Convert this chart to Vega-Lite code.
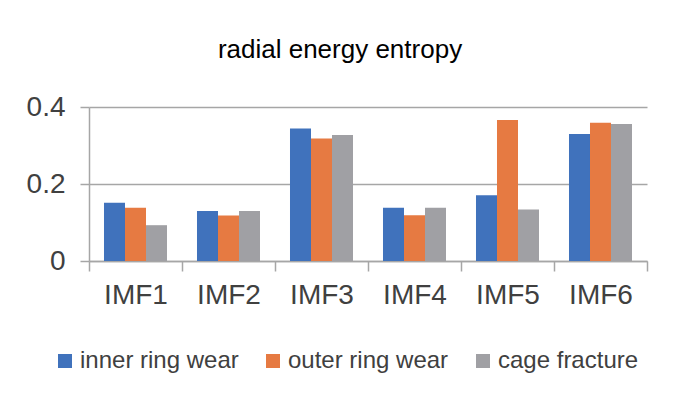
{
  "$schema": "https://vega.github.io/schema/vega-lite/v6.json",
  "autosize": "none",
  "width": 558,
  "height": 154,
  "padding": {"left": 89, "top": 107, "right": 28, "bottom": 136},
  "background": "white",
  "title": {
    "text": "radial energy entropy",
    "font": "Liberation Sans",
    "fontSize": 26,
    "fontWeight": "normal",
    "color": "#000000",
    "anchor": "middle",
    "baseline": "alphabetic",
    "offset": 9,
    "dx": -28
  },
  "data": {
    "values": [
      {"imf": "IMF1", "series": "inner ring wear", "value": 0.151},
      {"imf": "IMF1", "series": "outer ring wear", "value": 0.138},
      {"imf": "IMF1", "series": "cage fracture", "value": 0.093},
      {"imf": "IMF2", "series": "inner ring wear", "value": 0.130},
      {"imf": "IMF2", "series": "outer ring wear", "value": 0.118},
      {"imf": "IMF2", "series": "cage fracture", "value": 0.130},
      {"imf": "IMF3", "series": "inner ring wear", "value": 0.344},
      {"imf": "IMF3", "series": "outer ring wear", "value": 0.318},
      {"imf": "IMF3", "series": "cage fracture", "value": 0.327},
      {"imf": "IMF4", "series": "inner ring wear", "value": 0.138},
      {"imf": "IMF4", "series": "outer ring wear", "value": 0.119},
      {"imf": "IMF4", "series": "cage fracture", "value": 0.138},
      {"imf": "IMF5", "series": "inner ring wear", "value": 0.171},
      {"imf": "IMF5", "series": "outer ring wear", "value": 0.366},
      {"imf": "IMF5", "series": "cage fracture", "value": 0.134},
      {"imf": "IMF6", "series": "inner ring wear", "value": 0.330},
      {"imf": "IMF6", "series": "outer ring wear", "value": 0.359},
      {"imf": "IMF6", "series": "cage fracture", "value": 0.356}
    ]
  },
  "mark": {"type": "bar"},
  "encoding": {
    "x": {
      "field": "imf",
      "type": "nominal",
      "sort": null,
      "scale": {"paddingInner": 0, "paddingOuter": 0},
      "axis": {
        "title": null,
        "labelAngle": 0,
        "labelFont": "Liberation Sans",
        "labelFontSize": 28,
        "labelColor": "#404040",
        "labelPadding": 10,
        "domainColor": "#a6a6a6",
        "domainWidth": 1.5,
        "tickColor": "#a6a6a6",
        "tickWidth": 1.5,
        "tickSize": 10,
        "tickBand": "extent",
        "grid": false
      }
    },
    "xOffset": {
      "field": "series",
      "type": "nominal",
      "sort": ["inner ring wear", "outer ring wear", "cage fracture"],
      "scale": {"paddingInner": 0, "paddingOuter": 0.714}
    },
    "y": {
      "field": "value",
      "type": "quantitative",
      "scale": {"domain": [0, 0.4], "nice": false},
      "axis": {
        "title": null,
        "values": [0, 0.2, 0.4],
        "format": "~g",
        "labelFont": "Liberation Sans",
        "labelFontSize": 28,
        "labelColor": "#404040",
        "labelPadding": 15,
        "domainColor": "#a6a6a6",
        "domainWidth": 1.5,
        "tickColor": "#a6a6a6",
        "tickWidth": 1.5,
        "tickSize": 9,
        "grid": true,
        "gridColor": "#a6a6a6",
        "gridWidth": 1.5
      }
    },
    "color": {
      "field": "series",
      "type": "nominal",
      "sort": ["inner ring wear", "outer ring wear", "cage fracture"],
      "scale": {
        "domain": ["inner ring wear", "outer ring wear", "cage fracture"],
        "range": ["#4072BC", "#E67A42", "#A0A0A4"]
      },
      "legend": {
        "title": null,
        "orient": "none",
        "direction": "horizontal",
        "legendX": -36,
        "legendY": 242,
        "padding": 0,
        "symbolType": "square",
        "symbolSize": 196,
        "symbolStrokeWidth": 0,
        "labelFont": "Liberation Sans",
        "labelFontSize": 24,
        "labelLimit": 400,
        "labelColor": "#404040",
        "labelOffset": 3,
        "columnPadding": 22
      }
    }
  },
  "config": {
    "view": {"stroke": null}
  }
}
